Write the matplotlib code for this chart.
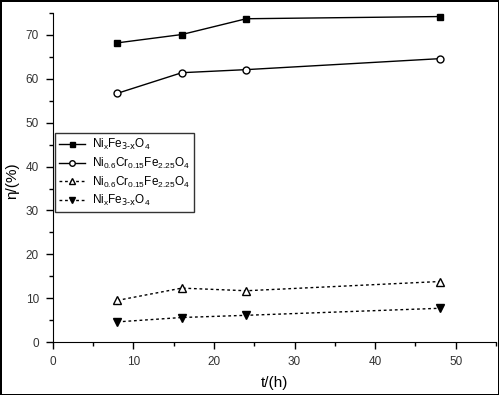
import matplotlib
matplotlib.use('Agg')
import matplotlib.pyplot as plt
from matplotlib.ticker import MultipleLocator

plt.rcParams['font.family'] = ['Liberation Sans', 'DejaVu Sans']

t = [8, 16, 24, 48]
s1 = [68.2, 70.1, 73.7, 74.2]
s2 = [56.7, 61.4, 62.1, 64.6]
s3 = [9.5, 12.3, 11.7, 13.8]
s4 = [4.6, 5.6, 6.1, 7.7]
labels = [r'$\mathregular{Ni_xFe_{\text{3-x}}O_4}$',
          r'$\mathregular{Ni_{0.6}Cr_{0.15}Fe_{2.25}O_4}$',
          r'$\mathregular{Ni_{0.6}Cr_{0.15}Fe_{2.25}O_4}$',
          r'$\mathregular{Ni_xFe_{\text{3-x}}O_4}$']

fig = plt.figure(figsize=(4.99, 3.95), dpi=100, edgecolor='black', linewidth=2)
ax = fig.add_axes([0.106, 0.134, 0.888, 0.833])

dash = (0, (2, 2))
ax.plot(t, s1, '-', color='black', lw=1, marker='s', ms=4.5, mfc='black', label=labels[0])
ax.plot(t, s2, '-', color='black', lw=1, marker='o', ms=5, mfc='white', label=labels[1])
ax.plot(t, s3, linestyle=dash, color='black', lw=1, marker='^', ms=6, mfc='white', label=labels[2])
ax.plot(t, s4, linestyle=dash, color='black', lw=1, marker='v', ms=6, mfc='black', label=labels[3])

ax.set_xlim(0, 55)
ax.set_ylim(0, 75)
ax.xaxis.set_major_locator(MultipleLocator(10))
ax.xaxis.set_minor_locator(MultipleLocator(5))
ax.yaxis.set_major_locator(MultipleLocator(10))
ax.yaxis.set_minor_locator(MultipleLocator(5))
ax.spines['top'].set_visible(False)
ax.spines['right'].set_visible(False)
ax.tick_params(which='major', direction='out', length=5, width=1, labelsize=8.5, pad=5, colors='black', labelcolor='#333333')
ax.tick_params(which='minor', direction='out', length=3, width=1)

ax.set_xlabel('t/(h)', fontsize=11, labelpad=6)
ax.set_ylabel('η/(%)', fontsize=11)
ax.yaxis.set_label_coords(-0.075, 0.49)

leg = ax.legend(loc='upper left', bbox_to_anchor=(0.004, 0.635), fontsize=8.5, frameon=True,
                fancybox=False, edgecolor='black', handlelength=2.2, handletextpad=0.6,
                borderpad=0.35, labelspacing=0.3, borderaxespad=0, markerscale=0.8)
leg.get_frame().set_linewidth(1)

fig.savefig('out.png', dpi=100)
